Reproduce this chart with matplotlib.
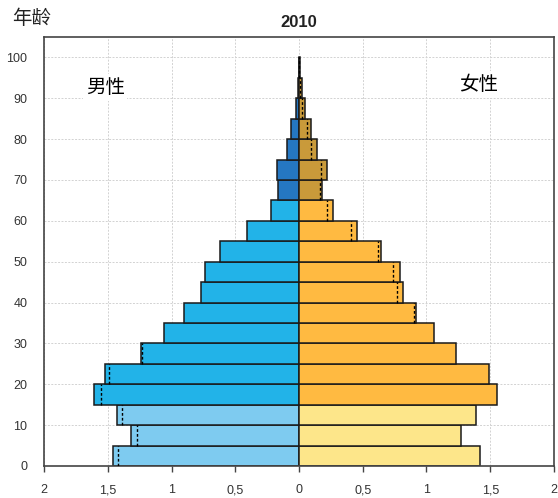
import matplotlib
matplotlib.use("Agg")
import matplotlib.pyplot as plt
from matplotlib.ticker import FuncFormatter

plt.rcParams['font.family'] = ['Liberation Sans', 'Noto Sans CJK SC', 'DejaVu Sans']

# age groups (lower bound of each 5-year band)
ages = [0, 5, 10, 15, 20, 25, 30, 35, 40, 45, 50, 55, 60, 65, 70, 75, 80, 85, 90, 95]
male = [1.461, 1.315, 1.427, 1.605, 1.522, 1.240, 1.057, 0.899, 0.765, 0.736,
        0.618, 0.405, 0.217, 0.164, 0.175, 0.096, 0.063, 0.021, 0.005, 0.003]
female = [1.420, 1.273, 1.386, 1.556, 1.488, 1.235, 1.057, 0.914, 0.812, 0.796,
          0.644, 0.456, 0.267, 0.178, 0.219, 0.143, 0.094, 0.050, 0.022, 0.004]

x_ticks = [-2, -1.5, -1, -0.5, 0, 0.5, 1, 1.5, 2]
y_ticks = [0, 10, 20, 30, 40, 50, 60, 70, 80, 90, 100]


def male_color(a):
    if a < 15:
        return '#7ecbf0'
    if a < 65:
        return '#22b3e8'
    return '#2577c2'


def female_color(a):
    if a < 15:
        return '#fde68a'
    if a < 65:
        return '#ffba41'
    return '#c99a3a'


fig = plt.figure(figsize=(5.58, 4.98), dpi=100)
ax = fig.add_axes([0.0789, 0.0643, 0.9139, 0.8614])

ax.barh(ages, [-m for m in male], height=5, align='edge',
        color=[male_color(a) for a in ages], edgecolor='#1a1a1a', linewidth=1.1, zorder=2)
ax.barh(ages, female, height=5, align='edge',
        color=[female_color(a) for a in ages], edgecolor='#1a1a1a', linewidth=1.1, zorder=2)

# dotted marks: the other sex's value, shown where it falls inside the bar
for a, m, f in zip(ages, male, female):
    if f < m:
        ax.vlines(-f, a, a + 5, colors='black', linestyles=(0, (2, 1.5)), linewidth=1, zorder=3)
    elif m < f:
        ax.vlines(m, a, a + 5, colors='black', linestyles=(0, (2, 1.5)), linewidth=1, zorder=3)

ax.set_xlim(-2, 2)
ax.set_ylim(0, 105)
ax.set_xticks(x_ticks)
ax.set_yticks(y_ticks)
ax.xaxis.set_major_formatter(FuncFormatter(lambda v, p: ('%g' % abs(v)).replace('.', ',')))

ax.grid(True, color='#d2d2d2', linestyle=(0, (2, 1.5)), linewidth=0.7, zorder=0)
ax.set_axisbelow(True)

for s in ax.spines.values():
    s.set_color('#444444')
    s.set_linewidth(1.2)

ax.tick_params(axis='x', length=4, width=1, color='#444444', pad=9, labelsize=9, labelcolor='#333333')
ax.tick_params(axis='y', length=0, pad=12, labelsize=9, labelcolor='#333333')

ax.text(-1.52, 92.6, '男性', fontsize=14, ha='center', va='center',
        family=['Noto Sans CJK SC', 'DejaVu Sans'],
        bbox=dict(facecolor='white', edgecolor='none', pad=2), zorder=4)
ax.text(1.41, 93.4, '女性', fontsize=14, ha='center', va='center',
        family=['Noto Sans CJK SC', 'DejaVu Sans'],
        bbox=dict(facecolor='white', edgecolor='none', pad=2), zorder=4)

fig.text(0.0215, 0.962, '年龄', fontsize=14, ha='left', va='center',
         family=['Noto Sans CJK SC', 'DejaVu Sans'], color='#222222')
fig.text(0.536, 0.955, '2010', fontsize=12, fontweight='bold', ha='center', va='center',
         color='#222222')

fig.savefig('out.png', dpi=100)
